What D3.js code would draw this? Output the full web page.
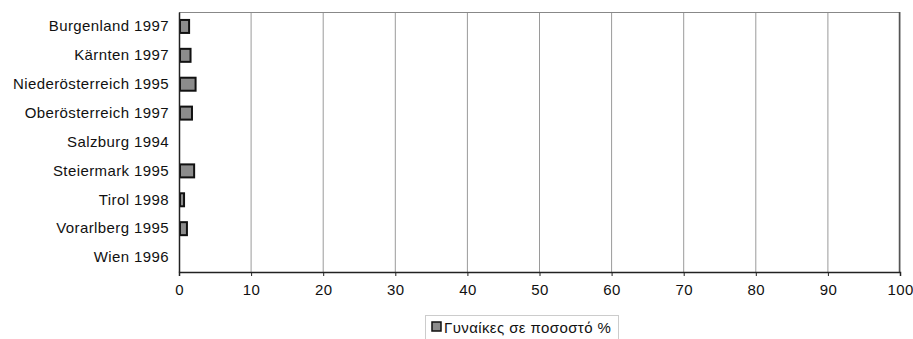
<!DOCTYPE html>
<html><head><meta charset="utf-8">
<script src="https://cdn.jsdelivr.net/npm/d3@7"></script>
<style>body{margin:0;background:#fff}svg{display:block}text{font-family:"Liberation Sans",Arial,sans-serif;fill:#111}</style>
</head><body><svg id="c" width="913" height="339"></svg>
<script>
const categories = ["Burgenland 1997","Kärnten 1997","Niederösterreich 1995","Oberösterreich 1997","Salzburg 1994","Steiermark 1995","Tirol 1998","Vorarlberg 1995","Wien 1996"];
const values = [1.4, 1.6, 2.3, 1.8, 0, 2.1, 0.7, 1.1, 0];
const xTicks = [0,10,20,30,40,50,60,70,80,90,100];
const seriesName = "Γυναίκες σε ποσοστό %";

const svg = d3.select("#c");
const m = {l:179, r:900, t:12, b:272};
const x = d3.scaleLinear().domain([0,100]).range([m.l, m.r]);
const y = d3.scaleBand().domain(categories).range([m.t, m.b]).paddingInner(0.55).paddingOuter(0.275);
const FS = 15, LS = "0.4px";

svg.append("g").selectAll("line").data(xTicks.slice(1)).join("line")
  .attr("x1", d=>x(d)).attr("x2", d=>x(d)).attr("y1", m.t).attr("y2", m.b)
  .attr("stroke", "#9a9a9a").attr("stroke-width", 1);
svg.append("line").attr("x1", m.l).attr("x2", m.r).attr("y1", m.t+0.5).attr("y2", m.t+0.5).attr("stroke","#888");
svg.append("line").attr("x1", m.r-0.5).attr("x2", m.r-0.5).attr("y1", m.t).attr("y2", m.b).attr("stroke","#555").attr("stroke-width",1.5);

svg.append("g").selectAll("rect").data(categories.map((c,i)=>({c, v:values[i]})).filter(d=>d.v>0)).join("rect")
  .attr("x", x(0)+1).attr("y", d=>y(d.c))
  .attr("width", d=>x(d.v)-x(0)-1).attr("height", y.bandwidth())
  .attr("fill", "#8c8c8c").attr("stroke", "#111").attr("stroke-width", 2);

const xa = svg.append("g").attr("transform", `translate(0,${m.b})`)
  .call(d3.axisBottom(x).tickValues(xTicks).tickSize(4).tickPadding(8).tickFormat(d3.format("d")));
xa.select(".domain").attr("stroke","#222").attr("stroke-width",1.5);
xa.selectAll(".tick line").attr("stroke","#222");
xa.selectAll("text").attr("font-size", FS).style("letter-spacing", LS).style("font-family","Liberation Sans, Arial, sans-serif").attr("fill","#111");

const ya = svg.append("g").attr("transform", `translate(${m.l},0)`)
  .call(d3.axisLeft(y).tickSize(0).tickPadding(10));
ya.select(".domain").attr("stroke","#222").attr("stroke-width",1.5);
ya.selectAll("text").attr("font-size", FS).style("letter-spacing", LS).style("font-family","Liberation Sans, Arial, sans-serif").attr("fill","#111");

const lg = svg.append("g");
lg.append("rect").attr("x", 425.5).attr("y", 315.5).attr("width", 193).attr("height", 30)
  .attr("fill","none").attr("stroke","#ccc");
lg.append("rect").attr("x", 432).attr("y", 322).attr("width", 9).attr("height", 9)
  .attr("fill","#8c8c8c").attr("stroke","#111").attr("stroke-width",1.5);
lg.append("text").attr("x", 444).attr("y", 333).attr("font-size", FS).style("letter-spacing", LS).text(seriesName);
</script></body></html>
